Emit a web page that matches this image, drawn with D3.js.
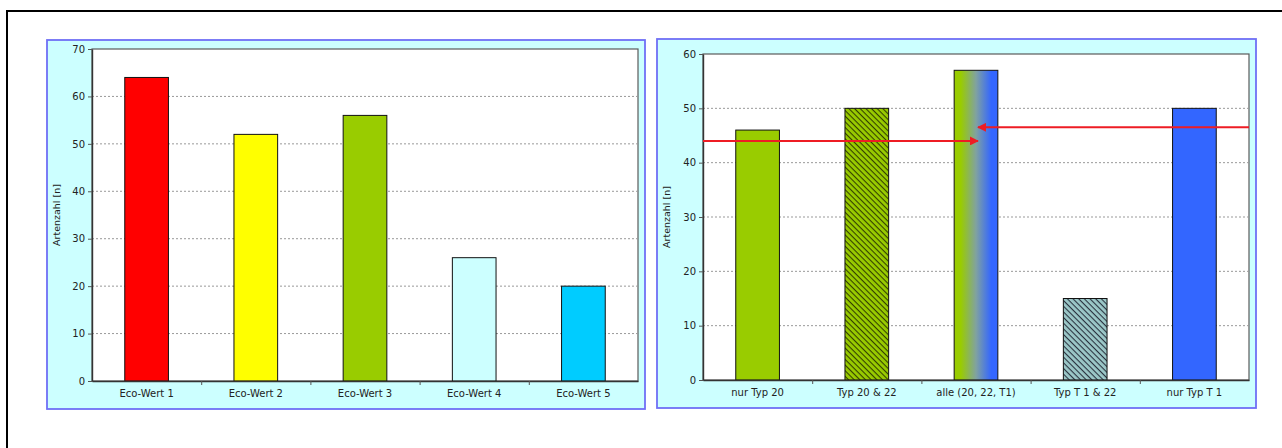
<!DOCTYPE html>
<html>
<head>
<meta charset="utf-8">
<script src="https://cdn.jsdelivr.net/npm/d3@7/dist/d3.min.js"></script>
<style>
  html, body { margin: 0; padding: 0; background: #fff; }
  svg { display: block; }
  text { font-family: "DejaVu Sans", Verdana, sans-serif; fill: #222; }
</style>
</head>
<body>
<svg id="chart" width="1282" height="448"></svg>
<script>
// Species count per eco value class
const ecoCategories = ["Eco-Wert 1", "Eco-Wert 2", "Eco-Wert 3", "Eco-Wert 4", "Eco-Wert 5"];
const ecoValues = [64, 52, 56, 26, 20];
const ecoTicks = [0, 10, 20, 30, 40, 50, 60, 70];

// Species count per habitat type combination
const typCategories = ["nur Typ 20", "Typ 20 & 22", "alle (20, 22, T1)", "Typ T 1 & 22", "nur Typ T 1"];
const typValues = [46, 50, 57, 15, 50];
const typTicks = [0, 10, 20, 30, 40, 50, 60];

// Reference levels marked by the red arrows (left arrow, right arrow)
const arrowLevels = [44, 46.5];

const axisTitle = "Artenzahl [n]";

const svg = d3.select("#chart");
const defs = svg.append("defs");

// Hatch patterns and gradient fills
function hatch(id, bg, line) {
  const p = defs.append("pattern")
    .attr("id", id).attr("patternUnits", "userSpaceOnUse")
    .attr("width", 4).attr("height", 4)
    .attr("patternTransform", "rotate(45)");
  p.append("rect").attr("width", 4).attr("height", 4).attr("fill", bg);
  p.append("rect").attr("width", 4).attr("height", 1.1).attr("fill", line);
}
hatch("hatchGreen", "#99cc00", "#334000");
hatch("hatchTeal", "#9cc8c8", "#2a3340");

const grad = defs.append("linearGradient").attr("id", "greenBlue")
  .attr("x1", "0%").attr("x2", "100%").attr("y1", "0%").attr("y2", "0%");
grad.append("stop").attr("offset", "15%").attr("stop-color", "#99cc00");
grad.append("stop").attr("offset", "50%").attr("stop-color", "#80a2a0");
grad.append("stop").attr("offset", "85%").attr("stop-color", "#3366ff");

defs.append("marker").attr("id", "arrowHead")
  .attr("viewBox", "0 0 10 10").attr("refX", 9).attr("refY", 5)
  .attr("markerWidth", 4.5).attr("markerHeight", 4.5)
  .attr("markerUnits", "strokeWidth").attr("orient", "auto")
  .append("path").attr("d", "M0,0 L10,5 L0,10 Z").attr("fill", "#ee1c24");

const ecoFills = ["#ff0000", "#ffff00", "#99cc00", "#ccffff", "#00ccff"];
const typFills = ["#99cc00", "url(#hatchGreen)", "url(#greenBlue)", "url(#hatchTeal)", "#3366ff"];

// Outer frame
svg.append("rect").attr("x", 7).attr("y", 11).attr("width", 1400).attr("height", 600)
  .attr("fill", "none").attr("stroke", "#000").attr("stroke-width", 2);

function drawPanel(opt) {
  const g = svg.append("g");
  g.append("rect")
    .attr("x", opt.panel[0]).attr("y", opt.panel[1])
    .attr("width", opt.panel[2]).attr("height", opt.panel[3])
    .attr("fill", "#ccffff").attr("stroke", "#6f6ff5").attr("stroke-width", 1.8);

  const [px, py, pw, ph] = opt.plot;
  const x = d3.scaleBand().domain(opt.categories).range([px, px + pw]).paddingInner(0.6).paddingOuter(0.3);
  const y = d3.scaleLinear().domain([0, d3.max(opt.ticks)]).range([py + ph, py]);

  g.append("rect").attr("x", px).attr("y", py).attr("width", pw).attr("height", ph)
    .attr("fill", "#fff").attr("stroke", "#5a5a5a").attr("stroke-width", 1.2);

  // dotted grid
  g.append("g").selectAll("line")
    .data(opt.ticks.filter(t => t > 0 && t < d3.max(opt.ticks)))
    .join("line")
    .attr("x1", px).attr("x2", px + pw)
    .attr("y1", d => y(d)).attr("y2", d => y(d))
    .attr("stroke", "#999").attr("stroke-width", 1).attr("stroke-dasharray", "2,2");

  // bars
  g.append("g").selectAll("rect")
    .data(opt.values)
    .join("rect")
    .attr("x", (d, i) => x(opt.categories[i]))
    .attr("width", x.bandwidth())
    .attr("y", d => y(d))
    .attr("height", d => y(0) - y(d))
    .attr("fill", (d, i) => opt.fills[i])
    .attr("stroke", "#111").attr("stroke-width", 1);

  // y axis
  const ya = g.append("g").attr("transform", `translate(${px},0)`)
    .call(d3.axisLeft(y).tickValues(opt.ticks).tickSize(4).tickPadding(3).tickSizeOuter(0));
  ya.select(".domain").attr("stroke", "#333").attr("stroke-width", 1.4);
  ya.selectAll(".tick line").attr("stroke", "#555");
  ya.selectAll(".tick text").style("font-size", "10px").attr("fill", "#222");

  // x axis: labels under categories, ticks between categories
  const xa = g.append("g").attr("transform", `translate(0,${py + ph})`)
    .call(d3.axisBottom(x).tickSize(0).tickPadding(9));
  xa.select(".domain").attr("stroke", "#333").attr("stroke-width", 1.4);
  xa.selectAll(".tick text").style("font-size", "10px").attr("fill", "#222");

  const sep = d3.scaleLinear().domain([0, opt.categories.length]).range([px, px + pw]);
  const sa = g.append("g").attr("transform", `translate(0,${py + ph})`)
    .call(d3.axisBottom(sep).tickValues(d3.range(1, opt.categories.length)).tickSize(4).tickFormat(""));
  sa.select(".domain").remove();
  sa.selectAll(".tick line").attr("stroke", "#555");

  // axis title
  g.append("text")
    .attr("transform", `translate(${opt.titleX},${py + ph / 2}) rotate(-90)`)
    .attr("text-anchor", "middle").attr("dominant-baseline", "middle")
    .style("font-size", "9.5px")
    .text(axisTitle);

  return { g, x, y };
}

drawPanel({
  panel: [47, 40, 598, 369],
  plot: [92, 49, 546, 332],
  categories: ecoCategories, values: ecoValues, ticks: ecoTicks, fills: ecoFills,
  titleX: 57
});

const right = drawPanel({
  panel: [657, 39, 599, 369],
  plot: [703, 54, 546, 326],
  categories: typCategories, values: typValues, ticks: typTicks, fills: typFills,
  titleX: 667
});

// red arrows pointing at the combined bar
const target = right.x(typCategories[2]) + right.x.bandwidth() / 2;
const xLeft = right.x.range()[0], xRight = right.x.range()[1];
right.g.append("g").selectAll("line")
  .data(arrowLevels)
  .join("line")
  .attr("x1", (d, i) => i === 0 ? xLeft : xRight)
  .attr("x2", target + 2)
  .attr("y1", d => right.y(d)).attr("y2", d => right.y(d))
  .attr("stroke", "#ee1c24").attr("stroke-width", 2)
  .attr("marker-end", "url(#arrowHead)");
</script>
</body>
</html>
